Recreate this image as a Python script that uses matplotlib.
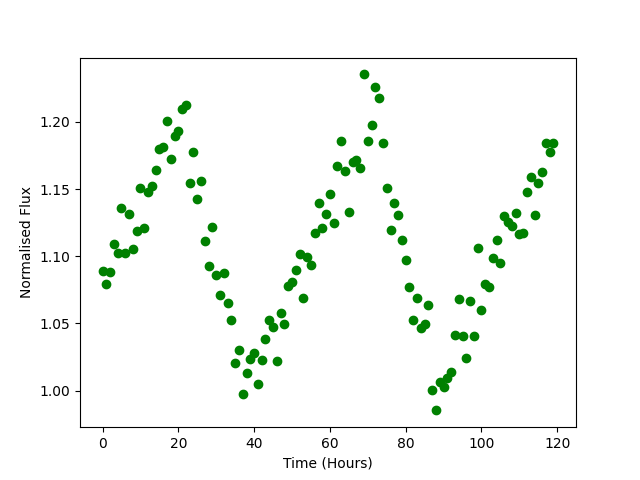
import matplotlib
matplotlib.use("Agg")
import matplotlib.pyplot as plt
import numpy as np

time_hours = np.arange(120)
flux = [
    1.0891, 1.0797, 1.0881, 1.1090, 1.1028, 1.1358, 1.1028, 1.1318, 1.1058, 1.1189,
    1.1507, 1.1207, 1.1479, 1.1527, 1.1639, 1.1795, 1.1815, 1.2006, 1.1728, 1.1894,
    1.1934, 1.2093, 1.2123, 1.1542, 1.1780, 1.1423, 1.1557, 1.1117, 1.0931, 1.1216,
    1.0864, 1.0715, 1.0874, 1.0655, 1.0524, 1.0209, 1.0300, 0.9972, 1.0134, 1.0238,
    1.0283, 1.0047, 1.0231, 1.0382, 1.0529, 1.0477, 1.0218, 1.0581, 1.0496, 1.0782,
    1.0807, 1.0896, 1.1015, 1.0693, 1.0993, 1.0933, 1.1177, 1.1400, 1.1207, 1.1318,
    1.1461, 1.1251, 1.1669, 1.1855, 1.1634, 1.1333, 1.1701, 1.1715, 1.1654, 1.2354,
    1.1855, 1.1974, 1.2257, 1.2175, 1.1840, 1.1507, 1.1199, 1.1400, 1.1306, 1.1125,
    1.0976, 1.0775, 1.0524, 1.0693, 1.0469, 1.0499, 1.0641, 1.0002, 0.9853, 1.0062,
    1.0027, 1.0092, 1.0142, 1.0417, 1.0685, 1.0410, 1.0241, 1.0670, 1.0410, 1.1065,
    1.0603, 1.0792, 1.0772, 1.0991, 1.1125, 1.0953, 1.1298, 1.1254, 1.1222, 1.1326,
    1.1164, 1.1177, 1.1482, 1.1594, 1.1304, 1.1546, 1.1631, 1.1847, 1.1780, 1.1840,
]

fig, ax = plt.subplots(figsize=(6.4, 4.8), dpi=100)
ax.plot(time_hours, flux, 'o', color='green')
ax.set_xlabel('Time (Hours)')
ax.set_ylabel('Normalised Flux')
fig.savefig('out.png', dpi=100)
